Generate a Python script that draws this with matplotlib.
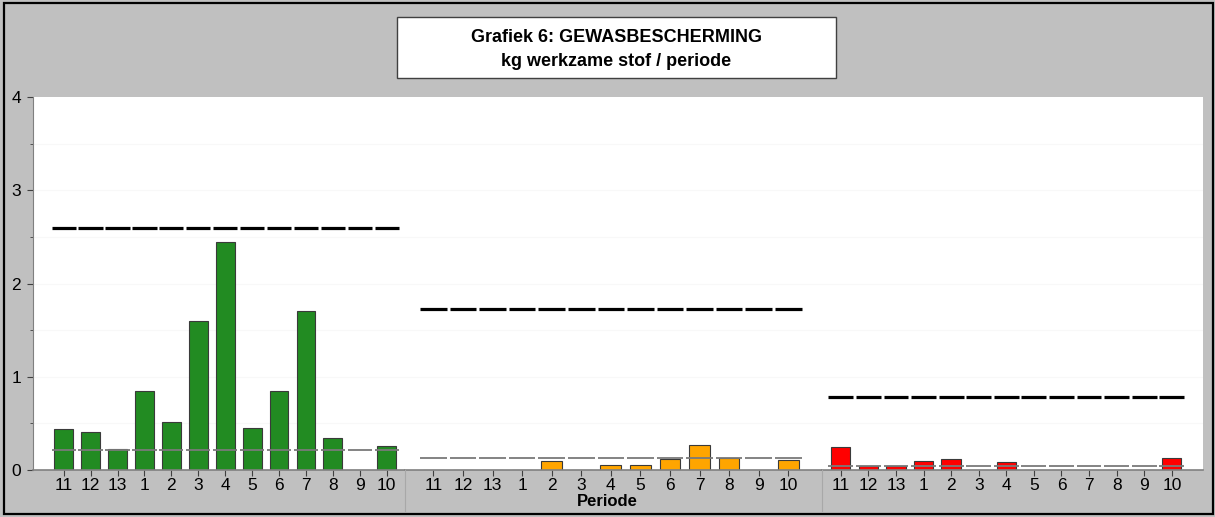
import matplotlib.pyplot as plt
from matplotlib.patches import Rectangle
from matplotlib.lines import Line2D

plt.rcParams['font.family'] = ['Liberation Sans', 'DejaVu Sans']

# Data
periods = ['11', '12', '13', '1', '2', '3', '4', '5', '6', '7', '8', '9', '10']
green_vals = [0.44, 0.41, 0.22, 0.85, 0.52, 1.60, 2.45, 0.45, 0.85, 1.70, 0.34, 0.0, 0.26]
orange_vals = [0.0, 0.0, 0.0, 0.0, 0.10, 0.0, 0.05, 0.05, 0.12, 0.27, 0.13, 0.0, 0.11]
red_vals = [0.25, 0.045, 0.045, 0.10, 0.12, 0.0, 0.09, 0.0, 0.0, 0.0, 0.0, 0.0, 0.13]
norm_levels = [2.60, 1.73, 0.78]     # thick black dashed line
avg_levels = [0.21, 0.13, 0.04]      # thin grey dashed line
colors = ['#228B22', '#FFA500', '#FF0000']

BG = '#c0c0c0'
W, H = 1215, 517
fig = plt.figure(figsize=(W / 100, H / 100), dpi=100, facecolor=BG)

# axes layout (pixel edges of each group panel)
bottom = 1 - 470 / H
height = (470 - 97) / H
panels = [(33, 405.3, -1.14, 12.69), (405.3, 821.7, -0.95, 13.13), (821.7, 1203, -0.69, 13.13)]
series = [green_vals, orange_vals, red_vals]

x = list(range(len(periods)))
for k, (x0, x1, lo, hi) in enumerate(panels):
    ax = fig.add_axes([x0 / W, bottom, (x1 - x0) / W, height])
    ax.set_facecolor('white')
    ax.set_xlim(lo, hi)
    ax.set_ylim(0, 4)
    for s in ['top', 'right', 'left']:
        ax.spines[s].set_visible(False)
    ax.spines['bottom'].set_color('#808080')
    ax.spines['bottom'].set_linewidth(1.2)

    # very faint grid
    for g in [0.5, 1, 1.5, 2, 2.5, 3, 3.5]:
        ax.axhline(g, color='#f8f8f8', lw=0.8, zorder=0)

    ax.bar(x, series[k], width=0.7, color=colors[k], edgecolor='#3a3a3a', linewidth=0.8, zorder=2)

    # dashed reference lines, one segment per period
    ax.hlines([avg_levels[k]] * len(x), [i - 0.45 for i in x], [i + 0.45 for i in x],
              colors='#7a7a7a', linewidth=1.3, capstyle='butt', zorder=3)
    ax.hlines([norm_levels[k]] * len(x), [i - 0.45 for i in x], [i + 0.45 for i in x],
              colors='black', linewidth=2.3, capstyle='butt', zorder=4)

    ax.set_xticks(x)
    ax.set_xticklabels(periods, fontsize=12.5)
    ax.tick_params(axis='x', length=4.5, width=0.8, color='#404040', pad=1.5)
    if k == 0:
        ax.spines['left'].set_visible(True)
        ax.spines['left'].set_color('#808080')
        ax.set_yticks([0, 1, 2, 3, 4])
        ax.set_yticks([0.5, 1.5, 2.5, 3.5], minor=True)
        ax.tick_params(axis='y', which='major', length=4.5, width=0.8, color='#404040',
                       labelsize=12.5, pad=4)
        ax.tick_params(axis='y', which='minor', length=2.5, width=0.6, color='#404040')
    else:
        ax.set_yticks([])

# group separators in the grey band below the axis
for xs in [405.3, 821.7]:
    fig.add_artist(Line2D([xs / W, xs / W], [6 / H, bottom], color='#a8a8a8', lw=0.8))

fig.text(0.5, 1 - 502 / H, 'Periode', ha='center', va='center', fontsize=12, fontweight='bold')

# title box
fig.add_artist(Rectangle((397 / W, 1 - 77.5 / H), (836 - 397) / W, (77.5 - 17) / H,
                         transform=fig.transFigure, facecolor='white', edgecolor='#404040', lw=1))
fig.text(616.5 / W, 1 - 38 / H, 'Grafiek 6: GEWASBESCHERMING', ha='center', va='center',
         fontsize=13, fontweight='bold')
fig.text(616.5 / W, 1 - 61 / H, 'kg werkzame stof / periode', ha='center', va='center',
         fontsize=13, fontweight='bold')

# outer border
fig.add_artist(Rectangle((4 / W, 3 / H), 1209 / W, 511 / H, transform=fig.transFigure,
                         facecolor='none', edgecolor='black', lw=1.6))

fig.savefig('out.png', dpi=100, facecolor=BG)
